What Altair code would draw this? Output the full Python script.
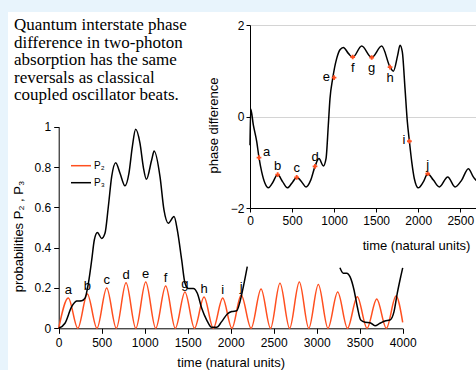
import altair as alt
import pandas as pd

# ---------------- data ----------------
# main panel, P2 (red): alternating zeros and peaks
p2_t = [0, 112, 222, 333, 445, 558, 670, 783, 897, 1012, 1128, 1244, 1356, 1468, 1579,
        1690, 1798, 1907, 2014, 2122, 2237, 2353, 2463, 2573, 2685, 2798, 2908, 3019,
        3131, 3244, 3358, 3472, 3585, 3698, 3810, 3922, 4000]
p2_v = [0, 0.15, 0, 0.17, 0, 0.20, 0, 0.226, 0, 0.23, 0, 0.21, 0, 0.18, 0,
        0.155, 0, 0.15, 0, 0.165, 0, 0.195, 0, 0.223, 0, 0.23, 0, 0.217,
        0, 0.18, 0, 0.157, 0, 0.145, 0, 0.16, 0.03]

# main panel, P3 (black): the two visible stretches
p3a_t = [0, 73, 151, 209, 267, 306, 345, 384, 414, 450, 500, 538, 577, 616, 663, 713,
         771, 817, 856, 895, 945, 984, 1020, 1081, 1110, 1178, 1224, 1275, 1341, 1379,
         1430, 1469, 1507, 1565, 1612, 1663, 1721, 1779, 1837, 1895, 1961, 2012, 2070,
         2108, 2147, 2193]
p3a_v = [0, 0.025, 0.107, 0.135, 0.137, 0.15, 0.223, 0.339, 0.438, 0.475, 0.446, 0.471,
         0.603, 0.752, 0.821, 0.769, 0.707, 0.77, 0.90, 0.987, 0.918, 0.80, 0.739, 0.835,
         0.879, 0.752, 0.587, 0.521, 0.554, 0.488, 0.339, 0.223, 0.198, 0.198, 0.174,
         0.099, 0.041, 0.005, 0.005, 0.033, 0.071, 0.083, 0.087, 0.132, 0.206, 0.306]
p3b_t = [3270, 3310, 3349, 3387, 3434, 3472, 3512, 3562, 3620, 3678, 3736, 3794, 3852,
         3899, 3937, 3977, 4000]
p3b_v = [0.30, 0.273, 0.273, 0.256, 0.19, 0.107, 0.041, 0.03, 0.028, 0.013, 0.025, 0.036,
         0.041, 0.083, 0.174, 0.256, 0.30]

peak_letters = list("abcdefghij")

# inset: phase difference
ph_t = [0, 8, 40, 80, 107, 139, 178, 218, 265, 329, 389, 444, 508, 555, 615, 666, 722,
        773, 820, 872, 904, 931, 951, 983, 1031, 1070, 1110, 1169, 1221, 1328, 1447,
        1566, 1665, 1704, 1756, 1784, 1811, 1843, 1871, 1895, 1923, 1954, 2001, 2061,
        2113, 2180, 2251, 2351, 2438, 2517, 2596, 2655, 2690]
ph_v = [-0.63, 0.17, -0.19, -0.55, -0.90, -1.21, -1.46, -1.56, -1.46, -1.27, -1.43,
        -1.56, -1.43, -1.33, -1.43, -1.54, -1.39, -1.09, -0.92, -1.08, -0.92, -0.19,
        0.39, 0.83, 1.27, 1.46, 1.51, 1.38, 1.29, 1.54, 1.29, 1.54, 1.08, 0.99, 1.34,
        1.56, 1.41, 0.61, -0.12, -0.54, -0.99, -1.36, -1.56, -1.43, -1.25, -1.39,
        -1.54, -1.32, -1.54, -1.39, -1.14, -1.32, -1.40]

mk_lab = list("abcdefghij")
mk_t = [107, 329, 555, 773, 999, 1221, 1447, 1665, 1895, 2113]
mk_v = [-0.90, -1.27, -1.33, -1.09, 0.85, 1.30, 1.29, 1.08, -0.54, -1.25]

title_lines = ["Quantum interstate phase", "difference in two-photon",
               "absorption has the same", "reversals as classical",
               "coupled oscillator beats."]

series_names = ["P\u2082", "P\u2083"]

# ---------------- tables ----------------
rows = []
for t, v in zip(p2_t, p2_v):
    rows.append({"t": t, "p": v, "series": series_names[0], "seg": "a"})
for t, v in zip(p3a_t, p3a_v):
    rows.append({"t": t, "p": v, "series": series_names[1], "seg": "b"})
for t, v in zip(p3b_t, p3b_v):
    rows.append({"t": t, "p": v, "series": series_names[1], "seg": "c"})
main_df = pd.DataFrame(rows)

peaks = [(t, v) for i, (t, v) in enumerate(zip(p2_t, p2_v)) if i % 2 == 1][:len(peak_letters)]
lab_df = pd.DataFrame({"t": [p[0] for p in peaks], "p": [p[1] for p in peaks],
                       "lab": peak_letters})

ins_df = pd.DataFrame({"t": ph_t, "ph": ph_v})
mk_df = pd.DataFrame({"t": mk_t, "ph": mk_v, "lab": mk_lab})

# ---------------- styling ----------------
RED = "#ff4f1f"
F = "Liberation Sans"
VW, VH = 468, 358

common = dict(labelFont=F, labelFontSize=12, labelColor="black", domainColor="black",
              tickColor="black", titleFont=F, titleFontSize=13, titleFontWeight="normal",
              titleColor="black", labelOverlap=False, labelFlush=False)


def main_x():
    return alt.Scale(domain=[0, 4000], range=[50.7, 394.7], nice=False, zero=False)


def main_y():
    return alt.Scale(domain=[0, 1], range=[316.3, 114.7], nice=False, zero=False)


def ins_x():
    return alt.Scale(domain=[0, 2687], range=[242, 468], nice=False, zero=False)


def ins_y():
    return alt.Scale(domain=[-2, 2], range=[196, 13], nice=False, zero=False)


main_x_axis = alt.Axis(orient="bottom", offset=-(VH - 316.3),
                       values=[0, 500, 1000, 1500, 2000, 2500, 3000, 3500, 4000],
                       format="d", tickSize=5, labelPadding=4, grid=False,
                       title="time (natural units)", titlePadding=8, **common)
main_y_axis = alt.Axis(orient="left", offset=-50.7, values=[0, 0.2, 0.4, 0.6, 0.8, 1],
                       format="~g", tickSize=5, labelPadding=3, grid=False,
                       title="probabilities P\u2082 , P\u2083", titlePadding=9,
                       titleY=224, **common)
ins_x_axis = alt.Axis(orient="bottom", offset=-162, values=[0, 500, 1000, 1500, 2000, 2500],
                      format="d", tickSize=4, labelPadding=3, grid=False,
                      title="time (natural units)", titleX=408, titlePadding=13, **common)
ins_y_axis = alt.Axis(orient="left", offset=-242, values=[-2, 0, 2], format="d",
                      tickSize=4, labelPadding=2, grid=True, gridColor="#d4d4d4",
                      gridWidth=1, title="phase difference", titleY=113,
                      titlePadding=10, **common)

# ---------------- main panel ----------------
main_lines = alt.Chart(main_df).mark_line(interpolate="monotone", strokeWidth=1.5).encode(
    x=alt.X("t:Q", scale=main_x(), axis=main_x_axis),
    y=alt.Y("p:Q", scale=main_y(), axis=main_y_axis),
    color=alt.Color("series:N",
                    scale=alt.Scale(domain=series_names, range=[RED, "black"]),
                    legend=alt.Legend(orient="none", legendX=62, legendY=142.7, title=None,
                                      symbolType="stroke", symbolSize=400,
                                      symbolStrokeWidth=1.5, labelFont=F, labelFontSize=10,
                                      labelColor="black", labelOffset=2, rowPadding=1,
                                      padding=0)),
    detail="seg:N",
)
main_labels = alt.Chart(lab_df).mark_text(font=F, fontSize=13, baseline="alphabetic",
                                          dy=-4, color="black").encode(
    x=alt.X("t:Q", scale=main_x(), axis=None),
    y=alt.Y("p:Q", scale=main_y(), axis=None),
    text="lab:N",
)

# ---------------- inset ----------------
ins_line = alt.Chart(ins_df).mark_line(interpolate="monotone", color="black",
                                       strokeWidth=1.5).encode(
    x=alt.X("t:Q", scale=ins_x(), axis=ins_x_axis),
    y=alt.Y("ph:Q", scale=ins_y(), axis=ins_y_axis),
)
ins_pts = alt.Chart(mk_df).mark_point(shape="cross", filled=True, size=22, color=RED,
                                      opacity=1).encode(
    x=alt.X("t:Q", scale=ins_x(), axis=None),
    y=alt.Y("ph:Q", scale=ins_y(), axis=None),
)


def letters(sel, **kw):
    return alt.Chart(mk_df).transform_filter(
        alt.FieldOneOfPredicate(field="lab", oneOf=sel)
    ).mark_text(font=F, fontSize=13, color="black", **kw).encode(
        x=alt.X("t:Q", scale=ins_x(), axis=None),
        y=alt.Y("ph:Q", scale=ins_y(), axis=None),
        text="lab:N",
    )


ins_above = letters(["b", "c", "d", "j"], align="center", baseline="alphabetic", dy=-5)
ins_right = letters(["a"], align="left", baseline="alphabetic", dx=4, dy=-2)
ins_left = letters(["e", "i"], align="right", baseline="alphabetic", dx=-4, dy=3)
ins_below = letters(["f", "g", "h"], align="center", baseline="alphabetic", dy=15)

chart = alt.layer(
    main_lines, main_labels, ins_line, ins_pts, ins_above, ins_right, ins_left, ins_below
).resolve_scale(
    x="independent", y="independent"
).resolve_axis(
    x="independent", y="independent"
).properties(
    width=VW, height=VH,
    autosize="none",
    padding={"left": 8, "top": 12, "right": 0, "bottom": 0},
    background="#e8f4fc",
    title=alt.TitleParams(text=title_lines, anchor="start", frame="group", orient="top",
                          baseline="top", offset=-1, dx=6, dy=91,
                          font="Liberation Serif", fontSize=17, lineHeight=17.5,
                          fontWeight="normal", color="black"),
).configure_view(stroke=None, fill="white")

chart.save("out.html", embed_options={"renderer": "svg", "actions": False})
